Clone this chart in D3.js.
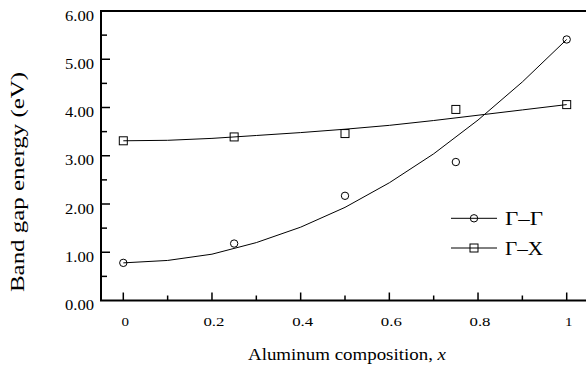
<!DOCTYPE html>
<html>
<head>
<meta charset="utf-8">
<script src="https://cdn.jsdelivr.net/npm/d3@7"></script>
<style>
  body { margin: 0; background: #fff; }
  svg { display: block; }
  svg text { font-family: 'Liberation Serif', serif; font-weight: normal; }
</style>
</head>
<body>
<svg width="586" height="365"></svg>
<script>
// measured points
const compX = [0, 0.25, 0.5, 0.75, 1];
const gammaGamma = [0.78, 1.18, 2.17, 2.87, 5.41];
const gammaX = [3.31, 3.39, 3.46, 3.96, 4.06];

// fitted curves
const fitX = [0, 0.1, 0.2, 0.3, 0.4, 0.5, 0.6, 0.7, 0.8, 0.9, 1];
const fitGammaGamma = [0.78, 0.83, 0.96, 1.20, 1.52, 1.93, 2.44, 3.04, 3.74, 4.53, 5.41];
const fitGammaX = [3.31, 3.32, 3.36, 3.42, 3.48, 3.55, 3.63, 3.73, 3.84, 3.95, 4.06];

const xTicks = [0, 0.2, 0.4, 0.6, 0.8, 1];
const xMinor = [0.1, 0.3, 0.5, 0.7, 0.9];
const yTicks = [0, 1, 2, 3, 4, 5, 6];
const yMinor = [0.5, 1.5, 2.5, 3.5, 4.5, 5.5];

const legendNames = ["\u0393\u2013\u0393", "\u0393\u2013X"];

const svg = d3.select("svg");

const x = d3.scaleLinear().domain([0, 1]).range([123.3, 566.7]);
const y = d3.scaleLinear().domain([0, 6]).range([300.5, 11]);
const left = 101;

// frame (right side runs off the page)
svg.append("rect")
    .attr("x", left).attr("y", y(6))
    .attr("width", 520).attr("height", y(0) - y(6))
    .attr("fill", "none").attr("stroke", "#000").attr("stroke-width", 2);

// ticks pointing inwards
const g = svg.append("g").attr("stroke", "#000").attr("stroke-width", 1.5);
g.selectAll(".yt").data(yTicks.slice(1, -1)).join("line")
    .attr("x1", left).attr("x2", left + 9).attr("y1", d => y(d)).attr("y2", d => y(d));
g.selectAll(".ym").data(yMinor).join("line")
    .attr("x1", left).attr("x2", left + 6).attr("y1", d => y(d)).attr("y2", d => y(d));
g.selectAll(".xt").data(xTicks).join("line")
    .attr("x1", d => x(d)).attr("x2", d => x(d)).attr("y1", y(0)).attr("y2", y(0) - 8);
g.selectAll(".xm").data(xMinor).join("line")
    .attr("x1", d => x(d)).attr("x2", d => x(d)).attr("y1", y(0)).attr("y2", y(0) - 5);

// tick labels
svg.append("g").selectAll("text").data(yTicks).join("text")
    .attr("x", left - 7).attr("y", d => y(d) + 9.7)
    .attr("text-anchor", "end").attr("font-size", 14)
    .attr("textLength", 29).attr("lengthAdjust", "spacingAndGlyphs")
    .text(d => d3.format(".2f")(d));

svg.append("g").selectAll("text").data(xTicks).join("text")
    .attr("x", d => x(d) + 2).attr("y", 325.7)
    .attr("text-anchor", "middle").attr("font-size", 13)
    .attr("textLength", d => String(d).length > 1 ? 21 : 7.5)
    .attr("lengthAdjust", "spacingAndGlyphs")
    .text(d => String(d));

// axis titles
const xt = svg.append("text")
    .attr("x", 248).attr("y", 360).attr("font-size", 17)
    .attr("textLength", 198).attr("lengthAdjust", "spacingAndGlyphs");
xt.append("tspan").text("Aluminum composition, ");
xt.append("tspan").attr("font-style", "italic").text("x");

svg.append("text")
    .attr("transform", "translate(24,182) rotate(-90)")
    .attr("text-anchor", "middle").attr("font-size", 18)
    .attr("textLength", 220).attr("lengthAdjust", "spacingAndGlyphs")
    .text("Band gap energy (eV)");

// fit lines
const line = d3.line().x(d => x(d[0])).y(d => y(d[1]));
[fitGammaGamma, fitGammaX].forEach(vals => {
  svg.append("path")
      .datum(fitX.map((v, i) => [v, vals[i]]))
      .attr("d", line)
      .attr("fill", "none").attr("stroke", "#000").attr("stroke-width", 1);
});

// markers
svg.append("g").selectAll("circle").data(compX).join("circle")
    .attr("cx", d => x(d)).attr("cy", (d, i) => y(gammaGamma[i])).attr("r", 3.7)
    .attr("fill", "none").attr("stroke", "#000").attr("stroke-width", 1);
svg.append("g").selectAll("rect").data(compX).join("rect")
    .attr("x", d => x(d) - 4).attr("y", (d, i) => y(gammaX[i]) - 4)
    .attr("width", 8).attr("height", 8)
    .attr("fill", "none").attr("stroke", "#000").attr("stroke-width", 1);

// legend
const lg = svg.append("g");
legendNames.forEach((name, i) => {
  const ly = 218.3 + i * 29.7;
  lg.append("line").attr("x1", 451).attr("x2", 497).attr("y1", ly).attr("y2", ly)
      .attr("stroke", "#000").attr("stroke-width", 1);
  if (i === 0) {
    lg.append("circle").attr("cx", 474).attr("cy", ly).attr("r", 3.7)
        .attr("fill", "none").attr("stroke", "#000");
  } else {
    lg.append("rect").attr("x", 470).attr("y", ly - 4).attr("width", 8).attr("height", 8)
        .attr("fill", "none").attr("stroke", "#000");
  }
  lg.append("text").attr("x", 505).attr("y", ly + 6.5).attr("font-size", 18)
      .attr("textLength", 38).attr("lengthAdjust", "spacingAndGlyphs")
      .text(name);
});
</script>
</body>
</html>
